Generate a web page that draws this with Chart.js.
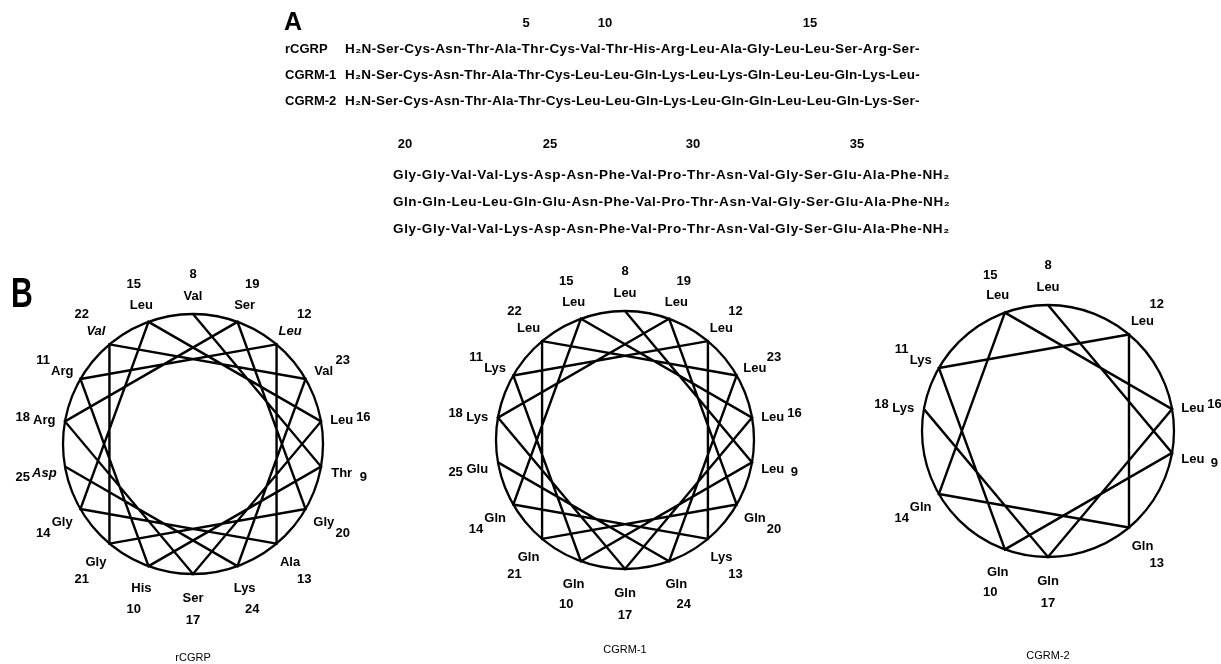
<!DOCTYPE html>
<html>
<head>
<meta charset="utf-8">
<script src="https://cdn.jsdelivr.net/npm/chart.js@4.4.0/dist/chart.umd.min.js"></script>
<style>
  html, body { margin: 0; padding: 0; background: #fff; }
  #wrap { position: relative; width: 1221px; height: 664px; }
</style>
</head>
<body>
<div id="wrap"><canvas id="myChart"></canvas></div>
<script>
// peptides
const peptides = ["rCGRP", "CGRM-1", "CGRM-2"];

// residues 1-37 (C-terminal amide)
const seqRCGRP = ["Ser","Cys","Asn","Thr","Ala","Thr","Cys","Val","Thr","His","Arg","Leu","Ala","Gly","Leu","Leu","Ser","Arg","Ser",
  "Gly","Gly","Val","Val","Lys","Asp","Asn","Phe","Val","Pro","Thr","Asn","Val","Gly","Ser","Glu","Ala","Phe"];
const seqCGRM1 = ["Ser","Cys","Asn","Thr","Ala","Thr","Cys","Leu","Leu","Gln","Lys","Leu","Lys","Gln","Leu","Leu","Gln","Lys","Leu",
  "Gln","Gln","Leu","Leu","Gln","Glu","Asn","Phe","Val","Pro","Thr","Asn","Val","Gly","Ser","Glu","Ala","Phe"];
const seqCGRM2 = ["Ser","Cys","Asn","Thr","Ala","Thr","Cys","Leu","Leu","Gln","Lys","Leu","Gln","Gln","Leu","Leu","Gln","Lys","Ser",
  "Gly","Gly","Val","Val","Lys","Asp","Asn","Phe","Val","Pro","Thr","Asn","Val","Gly","Ser","Glu","Ala","Phe"];
const sequences = [seqRCGRP, seqCGRM1, seqCGRM2];

// position numbers over the sequences
const posLabels1 = ["5", "10", "15"];
const posLabels2 = ["20", "25", "30", "35"];

// helical wheels: first and last residue drawn
const wheelFirst = [8, 8, 8];
const wheelLast = [25, 25, 18];
// rCGRP wheel residues set in italics
const italicRCGRP = [12, 22, 25];

// ---- layout (pixels) ----
const W = 1221, H = 664;
const wheelPos = [
  { cx: 193, cy: 444, r: 130, capY: 658 },
  { cx: 625, cy: 440, r: 129, capY: 650 },
  { cx: 1048, cy: 431, r: 126, capY: 656 },
];
const STEP = 100; // degrees per residue on an alpha helix

function wheelPoint(w, n, first, extra) {
  const a = (n - first) * STEP * Math.PI / 180;
  const rr = w.r + (extra || 0);
  return { x: w.cx + rr * Math.sin(a), y: w.cy - rr * Math.cos(a) };
}

const datasets = [];
peptides.forEach((p, i) => {
  const w = wheelPos[i];
  const pts = [];
  for (let n = wheelFirst[i]; n <= wheelLast[i]; n++) pts.push(wheelPoint(w, n, wheelFirst[i]));
  datasets.push({
    label: p + " wheel",
    data: pts,
    showLine: true,
    borderColor: "#000",
    borderWidth: 2.4,
    borderJoinStyle: "miter",
    pointRadius: 0,
    tension: 0,
  });
  datasets.push({
    label: p + " circle",
    data: [{ x: w.cx, y: w.cy }],
    pointRadius: w.r,
    pointBorderWidth: 2.3,
    pointBorderColor: "#000",
    pointBackgroundColor: "rgba(0,0,0,0)",
    showLine: false,
  });
});

const FONT = '"Liberation Sans", Arial, Helvetica, sans-serif';

function fitText(ctx, text, x, y, target) {
  ctx.letterSpacing = "0px";
  const nat = ctx.measureText(text).width;
  const sp = (target - nat) / text.length;
  ctx.letterSpacing = sp.toFixed(2) + "px";
  ctx.fillText(text, x, y);
  ctx.letterSpacing = "0px";
}

const textPlugin = {
  id: "figText",
  afterDraw(chart) {
    const ctx = chart.ctx;
    const xs = chart.scales.x, ys = chart.scales.y;
    const px = (v) => xs.getPixelForValue(v);
    const py = (v) => ys.getPixelForValue(v);
    ctx.save();
    ctx.fillStyle = "#000";
    ctx.textBaseline = "middle";

    // panel letters
    ctx.font = "bold 25px " + FONT;
    ctx.textAlign = "left";
    ctx.fillText("A", px(284), py(23));
    ctx.save();
    ctx.translate(px(11), py(295));
    ctx.scale(0.72, 1);
    ctx.font = "bold 42px " + FONT;
    ctx.fillText("B", 0, 0);
    ctx.restore();

    // panel A: sequences
    ctx.font = "bold 13px " + FONT;
    ctx.textAlign = "center";
    [526, 605, 810].forEach((x, k) => ctx.fillText(posLabels1[k], px(x), py(23)));
    [405, 550, 693, 857].forEach((x, k) => ctx.fillText(posLabels2[k], px(x), py(144)));
    const row1Y = [49, 75, 101];
    const row2Y = [175, 202, 229];
    peptides.forEach((p, i) => {
      const s = sequences[i];
      ctx.textAlign = "left";
      ctx.font = "bold 13px " + FONT;
      ctx.fillText(p, px(285), py(row1Y[i]));
      ctx.font = "bold 13.5px " + FONT;
      fitText(ctx, "H\u2082N-" + s.slice(0, 19).join("-") + "-", px(345), py(row1Y[i]), 575);
      fitText(ctx, s.slice(19).join("-") + "-NH\u2082", px(393), py(row2Y[i]), 557);
    });

    // panel B: wheel labels
    peptides.forEach((p, i) => {
      const w = wheelPos[i];
      ctx.textAlign = "center";
      for (let n = wheelFirst[i]; n <= wheelLast[i]; n++) {
        const nm = wheelPoint(w, n, wheelFirst[i], 21);
        const nb = wheelPoint(w, n, wheelFirst[i], 43);
        const it = i === 0 && italicRCGRP.includes(n);
        ctx.font = (it ? "italic " : "") + "bold 13px " + FONT;
        ctx.fillText(sequences[i][n - 1], px(nm.x), py(nm.y + 3));
        ctx.font = "bold 13px " + FONT;
        ctx.fillText(String(n), px(nb.x), py(nb.y + 3));
      }
      ctx.font = "11px " + FONT;
      ctx.fillText(p, px(w.cx), py(w.capY));
    });
    ctx.restore();
  },
};

const ctx = document.getElementById("myChart").getContext("2d");
const myChart = new Chart(ctx, {
  type: "scatter",
  data: { datasets: datasets },
  options: {
    responsive: true,
    maintainAspectRatio: false,
    animation: false,
    events: [],
    layout: { padding: 0, autoPadding: false },
    plugins: { legend: { display: false }, tooltip: { enabled: false } },
    scales: {
      x: { type: "linear", min: 0, max: W, display: false },
      y: { type: "linear", min: 0, max: H, reverse: true, display: false },
    },
  },
  plugins: [textPlugin],
});
</script>
</body>
</html>
